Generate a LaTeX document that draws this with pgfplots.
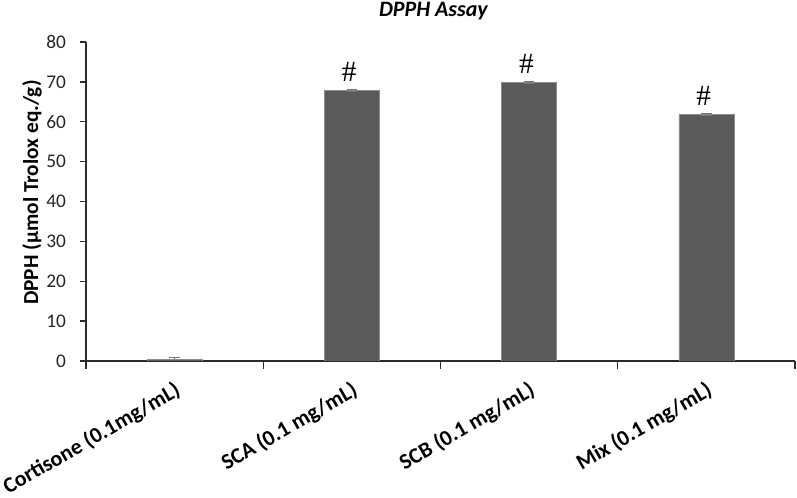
\documentclass[border=0pt]{standalone}
\usepackage{fontspec}
\setmainfont{Carlito}
\newfontfamily\hashfont{Liberation Serif}
\usepackage{pgfplots}
\pgfplotsset{compat=1.18}
\definecolor{barfill}{HTML}{5A5A5A}
\definecolor{axisgray}{HTML}{2B2B2B}

\begin{document}
\begin{tikzpicture}
\begin{axis}[
    scale only axis,
    width=531.75pt, height=239.25pt,
    xmin=-0.5, xmax=3.5,
    ymin=0, ymax=80,
    ytick={0,10,...,80},
    xtick={0,1,2,3},
    xticklabels={Cortisone (0.1mg/mL), SCA (0.1 mg/mL), SCB (0.1 mg/mL), Mix (0.1 mg/mL)},
    minor xtick={-0.5,0.5,1.5,2.5,3.5},
    major x tick style={draw=none},
    axis x line*=bottom, axis y line*=left,
    axis line style={-, line width=1pt, axisgray},
    tick style={line width=1pt, axisgray},
    tick align=outside,
    major tick length=4.5pt, minor tick length=6pt,
    /pgf/number format/assume math mode=true,
    yticklabel style={font=\fontsize{14.5}{16}\selectfont, text=black!85, xshift=-7pt},
    xticklabel style={font=\bfseries\fontsize{16.5}{18}\selectfont, rotate=30, anchor=north east, inner sep=0pt, yshift=-8pt, xshift=-5.5pt},
    title={DPPH Assay},
    title style={at={(axis description cs:0.49,1)}, anchor=center, yshift=17.25pt, font=\bfseries\itshape\fontsize{16.5}{18}\selectfont},
    ylabel={DPPH (µmol Trolox eq./g)},
    ylabel style={at={(axis description cs:-0.0762,0.528)}, anchor=center, font=\bfseries\fontsize{16}{18}\selectfont},
    ybar, bar width=41.25pt,
    error bars/y dir=both, error bars/y explicit,
    error bars/error bar style={line width=0.6pt, black!55},
    error bars/error mark options={rotate=90, mark size=4pt, line width=0.6pt, black!55},
]
\addplot[fill=barfill, draw=black!45, line width=0.4pt, bar shift=0pt]
    coordinates {(0,0.4) +- (0,0.4)};
\addplot[fill=barfill, draw=black!45, line width=0.4pt, bar shift=0pt,
    nodes near coords={\#},
    every node near coord/.append style={font=\hashfont\fontsize{22}{24}\selectfont, anchor=south, yshift=3pt, xshift=-2pt, text=black}]
    coordinates {(1,67.9) +- (0,0.3) (2,69.8) +- (0,0.3) (3,61.8) +- (0,0.3)};
\end{axis}
\pgfresetboundingbox
\useasboundingbox (-64.5pt,-102.75pt) rectangle (533.25pt,270.75pt);
\end{tikzpicture}
\end{document}
